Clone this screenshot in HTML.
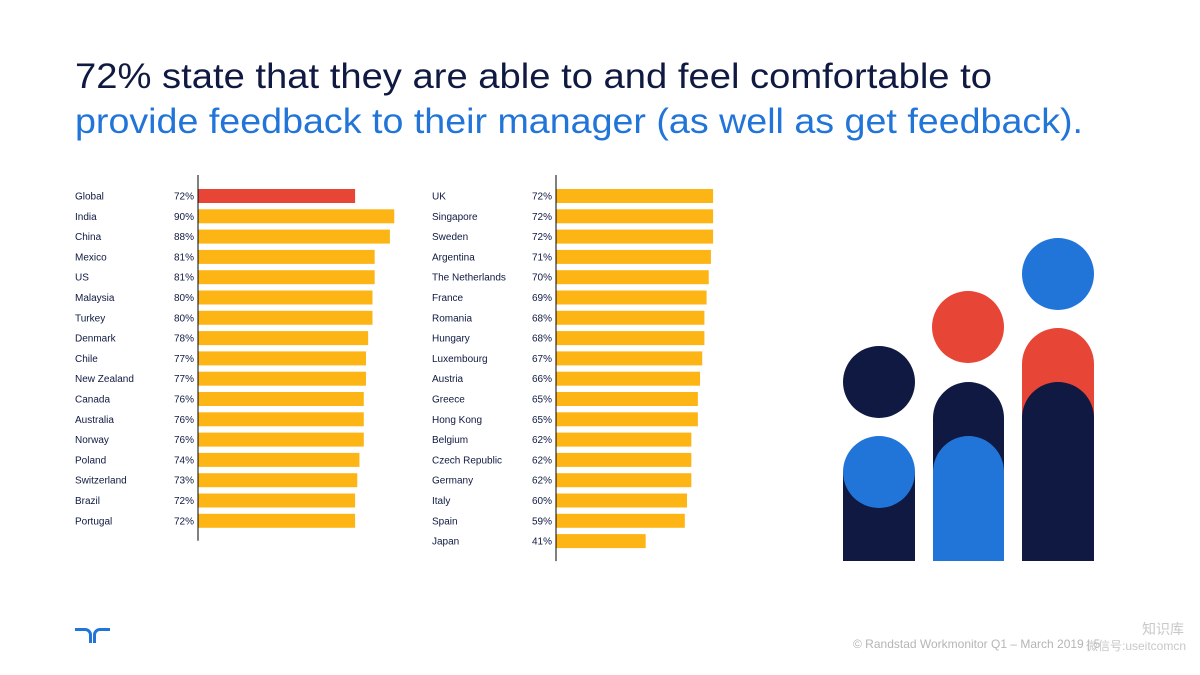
<!DOCTYPE html>
<html><head><meta charset="utf-8"><style>
body{margin:0;width:1200px;height:675px;background:#fff;overflow:hidden;font-family:"Liberation Sans",sans-serif;}
svg{position:absolute;left:0;top:0}
</style></head><body>
<svg width="1200" height="675" id="s">
<text x="75" y="88" font-size="35" fill="#0f1941" textLength="917" lengthAdjust="spacingAndGlyphs">72% state that they are able to and feel comfortable to</text>
<text x="75" y="133" font-size="35" fill="#2175d9" textLength="1008" lengthAdjust="spacingAndGlyphs">provide feedback to their manager (as well as get feedback).</text>
<g id="c1"></g>
<g id="c2"></g>
<g>
<circle cx="879" cy="382" r="36" fill="#0f1941"/>
<rect x="843" y="472" width="72" height="89" fill="#0f1941"/>
<circle cx="879" cy="472" r="36" fill="#2175d9"/>
<circle cx="968" cy="327" r="36" fill="#e74536"/>
<path d="M933 561V418a35.5 36 0 0 1 71 0V561Z" fill="#0f1941"/>
<path d="M933 561V472a35.5 36 0 0 1 71 0V561Z" fill="#2175d9"/>
<circle cx="1058" cy="274" r="36" fill="#2175d9"/>
<path d="M1022 561V364a36 36 0 0 1 72 0V561Z" fill="#e74536"/>
<path d="M1022 561V418a36 36 0 0 1 72 0V561Z" fill="#0f1941"/>
</g>
<g fill="#2175d9">
<path d="M75 628h10a7 7 0 0 1 7 7v8h-3v-8a4 4 0 0 0-4-4h-10z"/>
<path d="M110 628h-10a7 7 0 0 0-7 7v8h3v-8a4 4 0 0 1 4-4h10z"/>
</g>
<text x="853" y="648" font-size="12" fill="#b5b5b5">© Randstad Workmonitor Q1 – March 2019  |  5</text>
<text x="1142" y="634" font-size="14" fill="#c8c8c8" font-family="'Liberation Sans','Noto Sans CJK SC',sans-serif">知识库</text>
<text x="1086" y="650" font-size="12" fill="#c8c8c8" font-family="'Liberation Sans','Noto Sans CJK SC',sans-serif">微信号:useitcomcn</text>
</svg>
<script>
const leftCats=["Global","India","China","Mexico","US","Malaysia","Turkey","Denmark","Chile","New Zealand","Canada","Australia","Norway","Poland","Switzerland","Brazil","Portugal"];
const leftVals=[72,90,88,81,81,80,80,78,77,77,76,76,76,74,73,72,72];
const rightCats=["UK","Singapore","Sweden","Argentina","The Netherlands","France","Romania","Hungary","Luxembourg","Austria","Greece","Hong Kong","Belgium","Czech Republic","Germany","Italy","Spain","Japan"];
const rightVals=[72,72,72,71,70,69,68,68,67,66,65,65,62,62,62,60,59,41];
const NS="http://www.w3.org/2000/svg";
function mk(t,a,p){const e=document.createElementNS(NS,t);for(const k in a)e.setAttribute(k,a[k]);p.appendChild(e);return e;}
function draw(g,cats,vals,labX,axX,hl){
  const xs=v=>v*2.175, ys=i=>196+i*20.3;
  const ax=mk("line",{x1:axX,x2:axX,y1:175,y2:ys(cats.length-1)+20,stroke:"#000","stroke-width":1},g);
  
  
  cats.forEach((c,i)=>{
    const y=ys(i);
    const b=mk("rect",{x:axX+0.5,y:y-7,width:xs(vals[i]),height:14,fill:(hl&&i===0)?"#e74536":"#fdb515"},g);
    
    
    const t=mk("text",{x:labX,y:y+3.5,"font-size":10,fill:"#0f1941"},g);t.textContent=c;
    
    
    const v=mk("text",{x:axX-4,y:y+3.5,"font-size":10,fill:"#0f1941","text-anchor":"end"},g);v.textContent=vals[i]+"%";
    
    
  });
}
draw(document.getElementById("c1"),leftCats,leftVals,75,198,true);
draw(document.getElementById("c2"),rightCats,rightVals,432,556,false);
</script>
</body></html>
